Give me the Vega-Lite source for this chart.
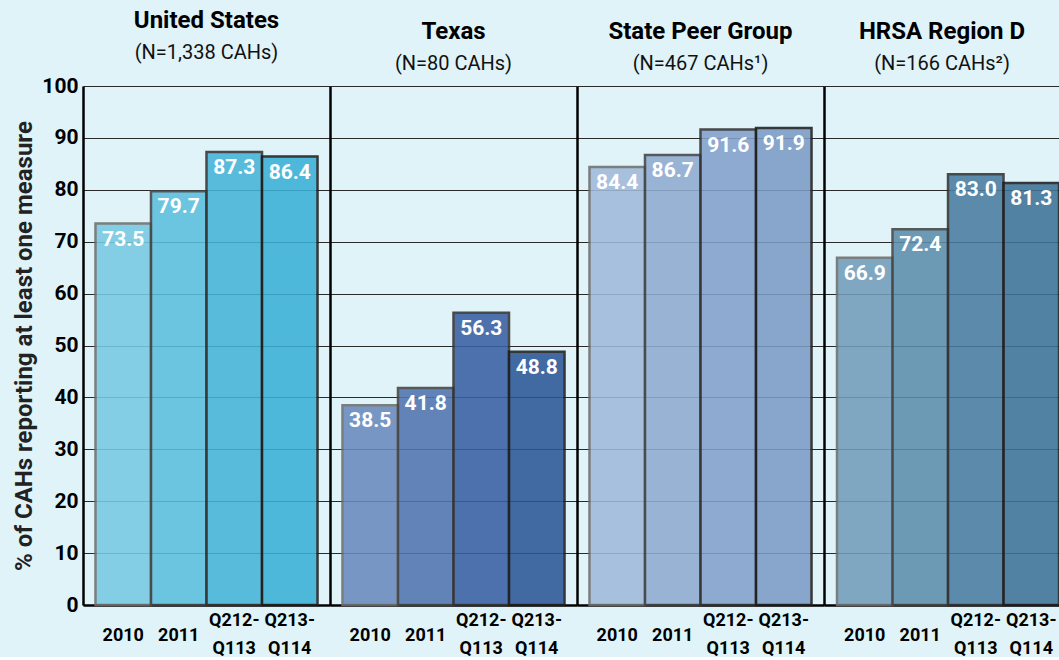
{
  "$schema": "https://vega.github.io/schema/vega-lite/v6.json",
  "background": "#dff3f9",
  "padding": {"left": 12, "top": 9, "right": 0, "bottom": 0},
  "data": {"values": [
    {"region": "United States", "period": "2010", "pct": 73.5},
    {"region": "United States", "period": "2011", "pct": 79.7},
    {"region": "United States", "period": "Q212-Q113", "pct": 87.3},
    {"region": "United States", "period": "Q213-Q114", "pct": 86.4},
    {"region": "Texas", "period": "2010", "pct": 38.5},
    {"region": "Texas", "period": "2011", "pct": 41.8},
    {"region": "Texas", "period": "Q212-Q113", "pct": 56.3},
    {"region": "Texas", "period": "Q213-Q114", "pct": 48.8},
    {"region": "State Peer Group", "period": "2010", "pct": 84.4},
    {"region": "State Peer Group", "period": "2011", "pct": 86.7},
    {"region": "State Peer Group", "period": "Q212-Q113", "pct": 91.6},
    {"region": "State Peer Group", "period": "Q213-Q114", "pct": 91.9},
    {"region": "HRSA Region D", "period": "2010", "pct": 66.9},
    {"region": "HRSA Region D", "period": "2011", "pct": 72.4},
    {"region": "HRSA Region D", "period": "Q212-Q113", "pct": 83.0},
    {"region": "HRSA Region D", "period": "Q213-Q114", "pct": 81.3}
  ]},
  "spacing": 0,
  "hconcat": [
    {
      "width": 247, "height": 519,
      "title": {"text": "United States", "subtitle": "(N=1,338 CAHs)"},
      "transform": [{"filter": "datum.region === 'United States'"}],
      "encoding": {
        "x": {"field": "period", "type": "nominal", "sort": ["2010", "2011", "Q212-Q113", "Q213-Q114"], "scale": {"paddingInner": 0, "paddingOuter": 0.225}, "axis": {"title": null}},
        "y": {"field": "pct", "type": "quantitative", "scale": {"domain": [0, 100], "nice": false}, "axis": {"title": "% of CAHs reporting at least one measure", "values": [0,10,20,30,40,50,60,70,80,90,100]}}
      },
      "layer": [
        {"mark": {"type": "bar", "strokeWidth": 2.5},
         "encoding": {
           "color": {"field": "period", "type": "nominal", "legend": null, "scale": {"domain": ["2010", "2011", "Q212-Q113", "Q213-Q114"], "range": ["#78cae3", "#5cbfde", "#47b4d9", "#3ab0d5"]}},
           "stroke": {"field": "period", "type": "nominal", "legend": null, "scale": {"domain": ["2010", "2011", "Q212-Q113", "Q213-Q114"], "range": ["#6e6e6e", "#444444", "#333333", "#1e1e1e"]}},
           "opacity": {"field": "period", "type": "nominal", "legend": null, "scale": {"domain": ["2010", "2011", "Q212-Q113", "Q213-Q114"], "range": [0.88, 0.88, 0.88, 1]}}
         }},
        {"mark": {"type": "text", "baseline": "top", "dy": 5, "color": "white", "fontWeight": "bold", "fontSize": 21},
         "encoding": {"text": {"field": "pct", "type": "quantitative", "format": ".1f"}}}
      ]
    },
    {
      "width": 247, "height": 519,
      "title": {"text": "Texas", "subtitle": "(N=80 CAHs)"},
      "transform": [{"filter": "datum.region === 'Texas'"}],
      "encoding": {
        "x": {"field": "period", "type": "nominal", "sort": ["2010", "2011", "Q212-Q113", "Q213-Q114"], "scale": {"paddingInner": 0, "paddingOuter": 0.225}, "axis": {"title": null}},
        "y": {"field": "pct", "type": "quantitative", "scale": {"domain": [0, 100], "nice": false}, "axis": {"title": null, "labels": false, "values": [0,10,20,30,40,50,60,70,80,90,100]}}
      },
      "layer": [
        {"mark": {"type": "bar", "strokeWidth": 2.5},
         "encoding": {
           "color": {"field": "period", "type": "nominal", "legend": null, "scale": {"domain": ["2010", "2011", "Q212-Q113", "Q213-Q114"], "range": ["#6a8abd", "#5174b0", "#3960a3", "#2c5797"]}},
           "stroke": {"field": "period", "type": "nominal", "legend": null},
           "opacity": {"field": "period", "type": "nominal", "legend": null}
         }},
        {"mark": {"type": "text", "baseline": "top", "dy": 5, "color": "white", "fontWeight": "bold", "fontSize": 21},
         "encoding": {"text": {"field": "pct", "type": "quantitative", "format": ".1f"}}}
      ]
    },
    {
      "width": 247, "height": 519,
      "title": {"text": "State Peer Group", "subtitle": "(N=467 CAHs¹)"},
      "transform": [{"filter": "datum.region === 'State Peer Group'"}],
      "encoding": {
        "x": {"field": "period", "type": "nominal", "sort": ["2010", "2011", "Q212-Q113", "Q213-Q114"], "scale": {"paddingInner": 0, "paddingOuter": 0.225}, "axis": {"title": null}},
        "y": {"field": "pct", "type": "quantitative", "scale": {"domain": [0, 100], "nice": false}, "axis": {"title": null, "labels": false, "values": [0,10,20,30,40,50,60,70,80,90,100]}}
      },
      "layer": [
        {"mark": {"type": "bar", "strokeWidth": 2.5},
         "encoding": {
           "color": {"field": "period", "type": "nominal", "legend": null, "scale": {"domain": ["2010", "2011", "Q212-Q113", "Q213-Q114"], "range": ["#a0bada", "#90abd1", "#83a0cb", "#7d9bc6"]}},
           "stroke": {"field": "period", "type": "nominal", "legend": null},
           "opacity": {"field": "period", "type": "nominal", "legend": null}
         }},
        {"mark": {"type": "text", "baseline": "top", "dy": 5, "color": "white", "fontWeight": "bold", "fontSize": 21},
         "encoding": {"text": {"field": "pct", "type": "quantitative", "format": ".1f"}}}
      ]
    },
    {
      "width": 236, "height": 519,
      "title": {"text": "HRSA Region D", "subtitle": "(N=166 CAHs²)"},
      "transform": [{"filter": "datum.region === 'HRSA Region D'"}],
      "encoding": {
        "x": {"field": "period", "type": "nominal", "sort": ["2010", "2011", "Q212-Q113", "Q213-Q114"], "scale": {"paddingInner": 0, "paddingOuter": 0.126, "align": 0.93}, "axis": {"title": null}},
        "y": {"field": "pct", "type": "quantitative", "scale": {"domain": [0, 100], "nice": false}, "axis": {"title": null, "labels": false, "values": [0,10,20,30,40,50,60,70,80,90,100]}}
      },
      "layer": [
        {"mark": {"type": "bar", "strokeWidth": 2.5},
         "encoding": {
           "color": {"field": "period", "type": "nominal", "legend": null, "scale": {"domain": ["2010", "2011", "Q212-Q113", "Q213-Q114"], "range": ["#739dba", "#5d8eac", "#497ca0", "#3e7398"]}},
           "stroke": {"field": "period", "type": "nominal", "legend": null},
           "opacity": {"field": "period", "type": "nominal", "legend": null}
         }},
        {"mark": {"type": "text", "baseline": "top", "dy": 5, "color": "white", "fontWeight": "bold", "fontSize": 21},
         "encoding": {"text": {"field": "pct", "type": "quantitative", "format": ".1f"}}}
      ]
    }
  ],
  "resolve": {"scale": {"color": "independent", "x": "independent"}},
  "config": {
    "font": "Roboto",
    "view": {"stroke": null},
    "axis": {
      "domainColor": "#000000", "domainWidth": 2.5,
      "gridColor": "#2a2a2a", "gridWidth": 1, "gridOpacity": 1,
      "ticks": false, "tickSize": 0,
      "labelColor": "#000000", "labelFontWeight": "bold",
      "titleColor": "#222222", "titleFontWeight": "bold"
    },
    "axisY": {"labelFontSize": 21, "labelPadding": 5, "titleFontSize": 24, "titlePadding": 5},
    "axisX": {"grid": false, "labelAngle": 0, "labelFontSize": 18, "labelBaseline": "middle",
      "labelPadding": {"condition": {"test": "length(datum.value) > 4", "value": 15}, "value": 30},
      "labelExpr": "indexof(datum.label, '-') > 0 ? [substring(datum.label, 0, 5), substring(datum.label, 5)] : datum.label",
      "labelLineHeight": 28},
    "title": {"fontSize": 24, "fontWeight": "bold", "color": "#000000", "anchor": "middle",
      "subtitleFontSize": 20, "subtitleColor": "#111111", "subtitlePadding": 10, "offset": 12}
  }
}
